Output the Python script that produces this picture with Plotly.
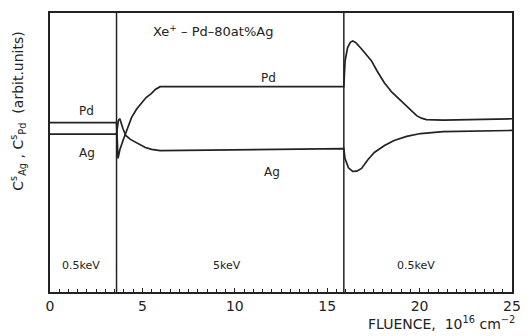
import plotly.graph_objects as go

# Data (arbitrary units)
pd_x = [0, 3.6, 3.68, 3.78, 3.99, 4.2, 4.41, 4.68, 4.95, 5.2, 5.48, 5.7, 5.96, 15.9, 15.93, 15.97, 16.1, 16.25, 16.38, 16.55, 16.86, 17.1, 17.39, 17.7, 18.09, 18.5, 18.99, 19.4, 19.84, 20.1, 20.37, 21.28, 25]
pd_y = [60.7, 60.7, 47.9, 51.0, 55.0, 59.0, 62.5, 65.5, 67.9, 69.7, 71.1, 72.6, 73.6, 73.6, 78.0, 82.9, 87.5, 89.5, 90.0, 89.4, 87.1, 85.3, 82.9, 79.2, 75.0, 71.6, 68.6, 65.8, 63.2, 62.3, 61.8, 61.6, 62.1]

ag_x = [0, 3.6, 3.7, 3.78, 3.95, 4.1, 4.35, 4.63, 5.16, 5.5, 5.96, 15.9, 15.96, 16.15, 16.38, 16.6, 16.86, 17.2, 17.55, 18.1, 18.62, 19.3, 20.05, 21.28, 25]
ag_y = [56.6, 56.6, 61.5, 62.1, 58.5, 56.1, 54.7, 53.6, 51.8, 51.1, 50.7, 51.4, 47.9, 44.5, 43.2, 43.3, 44.3, 47.4, 50.0, 52.5, 54.3, 55.8, 56.8, 57.5, 57.9]

boundaries = [3.6, 15.9]
region_labels = ["0.5keV", "5keV", "0.5keV"]
region_centers = [1.7, 9.6, 19.8]

ink = "#222222"
font = "DejaVu Sans"

fig = go.Figure()
fig.add_trace(go.Scatter(x=pd_x, y=pd_y, mode="lines", name="Pd",
                         line=dict(color=ink, width=1.7)))
fig.add_trace(go.Scatter(x=ag_x, y=ag_y, mode="lines", name="Ag",
                         line=dict(color=ink, width=1.7)))

for b in boundaries:
    fig.add_shape(type="line", x0=b, x1=b, y0=0, y1=1, xref="x", yref="paper",
                  line=dict(color=ink, width=1.5))

for lab, xc in zip(region_labels, region_centers):
    fig.add_annotation(x=xc, y=9.5, text=lab, showarrow=False,
                       font=dict(family=font, size=11, color=ink))

# curve labels
fig.add_annotation(x=2.0, y=65.0, text="Pd", showarrow=False, font=dict(family=font, size=12, color=ink))
fig.add_annotation(x=2.0, y=50.0, text="Ag", showarrow=False, font=dict(family=font, size=12, color=ink))
fig.add_annotation(x=11.8, y=76.8, text="Pd", showarrow=False, font=dict(family=font, size=12, color=ink))
fig.add_annotation(x=12.0, y=43.0, text="Ag", showarrow=False, font=dict(family=font, size=12, color=ink))
fig.add_annotation(x=8.8, y=93.6, text="Xe<sup>+</sup> – Pd–80at%Ag", showarrow=False,
                   font=dict(family=font, size=13, color=ink))

# y axis title (rotated)
fig.add_annotation(xref="paper", yref="paper", x=-0.095, y=0.65,
                   text="C<sup>s</sup><sub>Ag</sub> , C<sup>s</sup><sub>Pd</sub>  (arbit.units)",
                   textangle=-90, showarrow=False, font=dict(family=font, size=14, color=ink))

# x axis title
fig.add_annotation(xref="paper", yref="paper", x=1.01, y=-0.152, xanchor="right", yanchor="bottom",
                   text="FLUENCE,  10<sup>16</sup> cm<sup>−2</sup>", showarrow=False,
                   font=dict(family=font, size=14, color=ink))

fig.update_layout(
    width=532, height=336,
    margin=dict(l=50, r=11, t=12, b=44),
    paper_bgcolor="white", plot_bgcolor="white",
    showlegend=False,
    xaxis=dict(range=[0, 25], tickmode="linear", tick0=0, dtick=5,
               ticks="inside", ticklen=4, tickcolor=ink, tickwidth=1,
               minor=dict(tick0=0, dtick=0.5, ticks="inside", ticklen=3, tickcolor=ink, tickwidth=1),
               showline=True, linecolor=ink, linewidth=1.8, mirror=True,
               showgrid=False, zeroline=False,
               tickfont=dict(family=font, size=14, color=ink)),
    yaxis=dict(range=[0, 100], showticklabels=False, ticks="",
               showline=True, linecolor=ink, linewidth=1.8, mirror=True,
               showgrid=False, zeroline=False),
)

fig.write_html("out.html")
